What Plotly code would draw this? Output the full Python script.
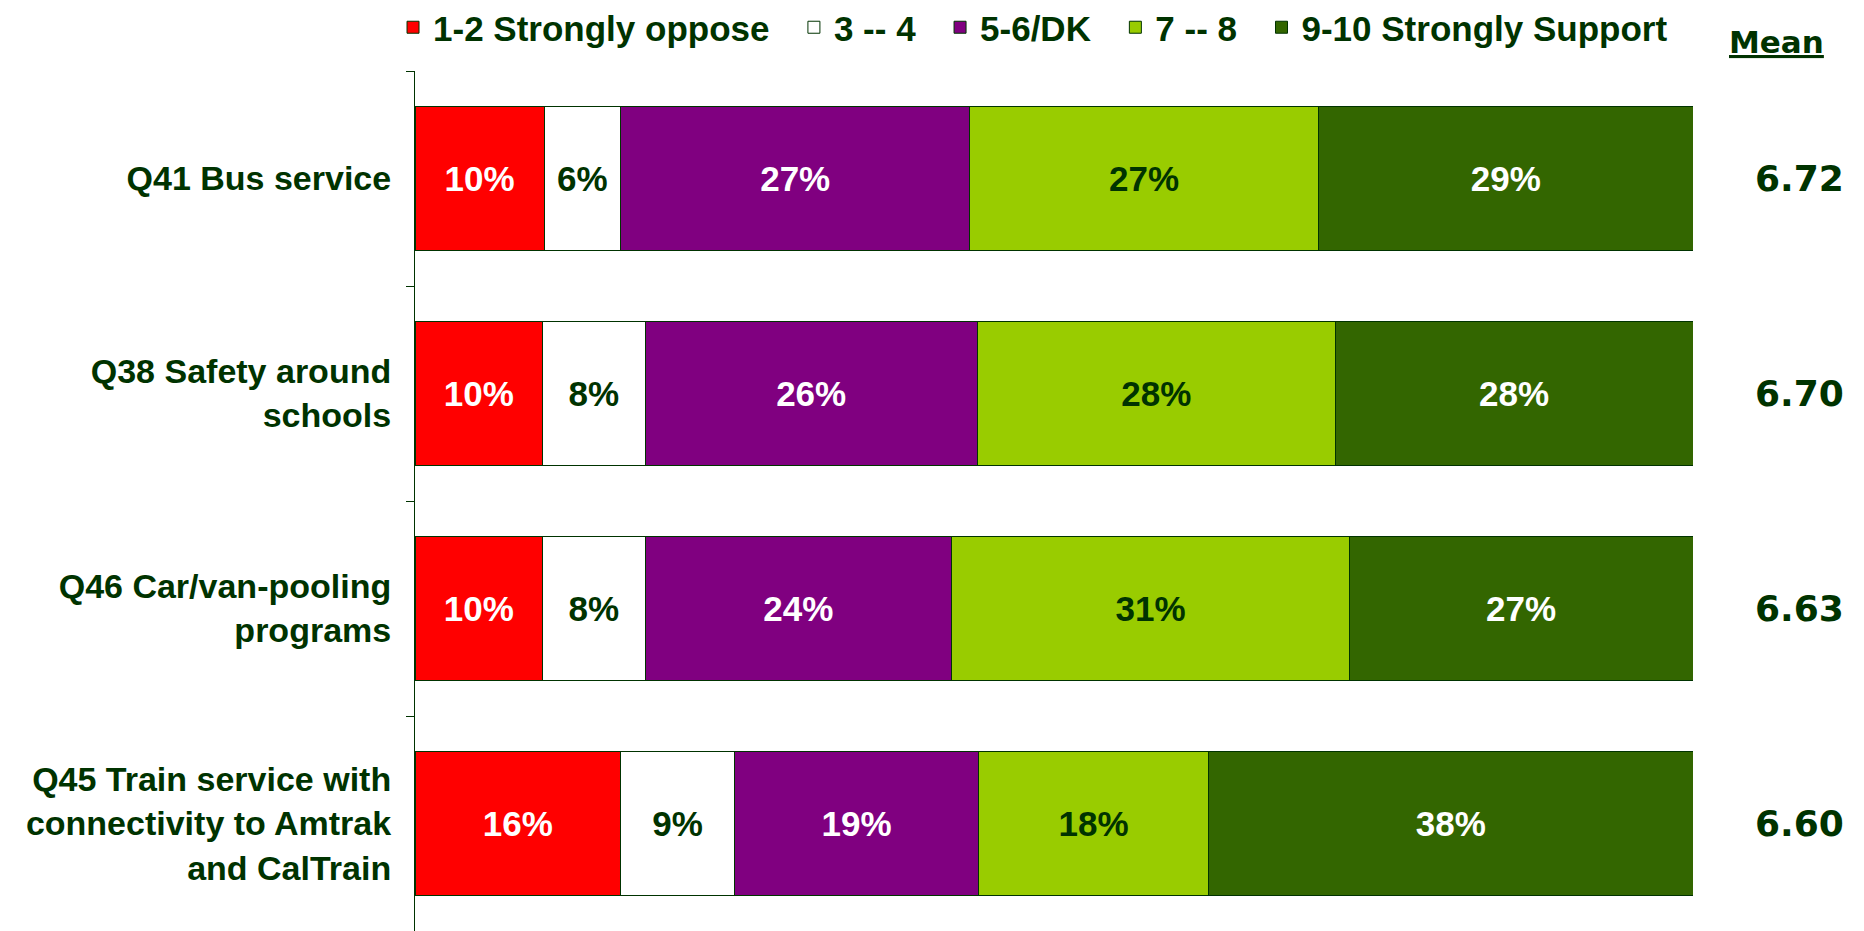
import plotly.graph_objects as go

categories = [
    "Q41 Bus service",
    "Q38 Safety around<br>schools",
    "Q46 Car/van-pooling<br>programs",
    "Q45 Train service with<br>connectivity to Amtrak<br>and CalTrain",
]
series_names = ["1-2 Strongly oppose", "3 -- 4", "5-6/DK", "7 -- 8", "9-10 Strongly Support"]
oppose = [10.1, 10.0, 10.0, 16.1]
low = [6.0, 8.0, 8.0, 8.9]
mid_dk = [27.3, 26.0, 24.0, 19.1]
high = [27.3, 28.0, 31.1, 18.0]
support = [29.3, 28.0, 26.9, 37.9]
means = [6.72, 6.70, 6.63, 6.60]

series_values = [oppose, low, mid_dk, high, support]
colors = ["#FF0000", "#FFFFFF", "#800080", "#99CC00", "#336600"]
text_colors = ["#FFFFFF", "#003300", "#FFFFFF", "#003300", "#FFFFFF"]

DARK = "#003300"
FONT = "Liberation Sans, Arial, sans-serif"
PAD = "\u00a0\u00a0"

fig = go.Figure()
for i, (name, vals, c, tc) in enumerate(zip(series_names, series_values, colors, text_colors)):
    shown = name + (PAD if i < len(series_names) - 1 else "")
    fig.add_trace(go.Bar(
        y=categories, x=vals, name=shown, orientation="h",
        marker=dict(color=c, line=dict(color=DARK, width=1)),
        texttemplate="%{x:.0f}%", textposition="inside", insidetextanchor="middle",
        textangle=0, constraintext="none",
        textfont=dict(family=FONT, size=35, color=tc, weight="bold"),
        hoverinfo="skip",
    ))

for cat, m in zip(categories, means):
    fig.add_annotation(x=1.0837, xref="paper", y=cat, yref="y", text=f"{m:.2f}",
                       showarrow=False, xanchor="center", yanchor="middle",
                       font=dict(family="DejaVu Sans, sans-serif", size=36, color=DARK, weight="bold"))
fig.add_annotation(x=1.0657, xref="paper", y=1.0337, yref="paper", text="<u>Mean</u>",
                   showarrow=False, xanchor="center", yanchor="middle",
                   font=dict(family="DejaVu Sans, sans-serif", size=31, color=DARK, weight="bold"))

fig.update_layout(
    width=1864, height=931,
    margin=dict(l=407, r=179, t=63, b=8, autoexpand=False),
    barmode="stack", bargap=0.33,
    plot_bgcolor="white", paper_bgcolor="white",
    showlegend=True,
    legend=dict(orientation="h", xref="paper", yref="paper",
                x=-0.0172, xanchor="left", y=1.0849, yanchor="top",
                font=dict(family=FONT, size=35, color=DARK, weight="bold"),
                traceorder="normal", bgcolor="rgba(0,0,0,0)"),
    xaxis=dict(range=[0, 100], visible=False, fixedrange=True, automargin=False),
    yaxis=dict(type="category", categoryorder="array", categoryarray=categories,
               autorange="reversed", showline=True, linecolor=DARK, linewidth=1,
               ticks="outside", ticklen=8, tickcolor=DARK, tickson="boundaries",
               ticklabelstandoff=16, automargin=False,
               tickfont=dict(family=FONT, size=34, color=DARK, weight="bold"),
               showgrid=False, zeroline=False),
)

fig.write_html("out.html")
